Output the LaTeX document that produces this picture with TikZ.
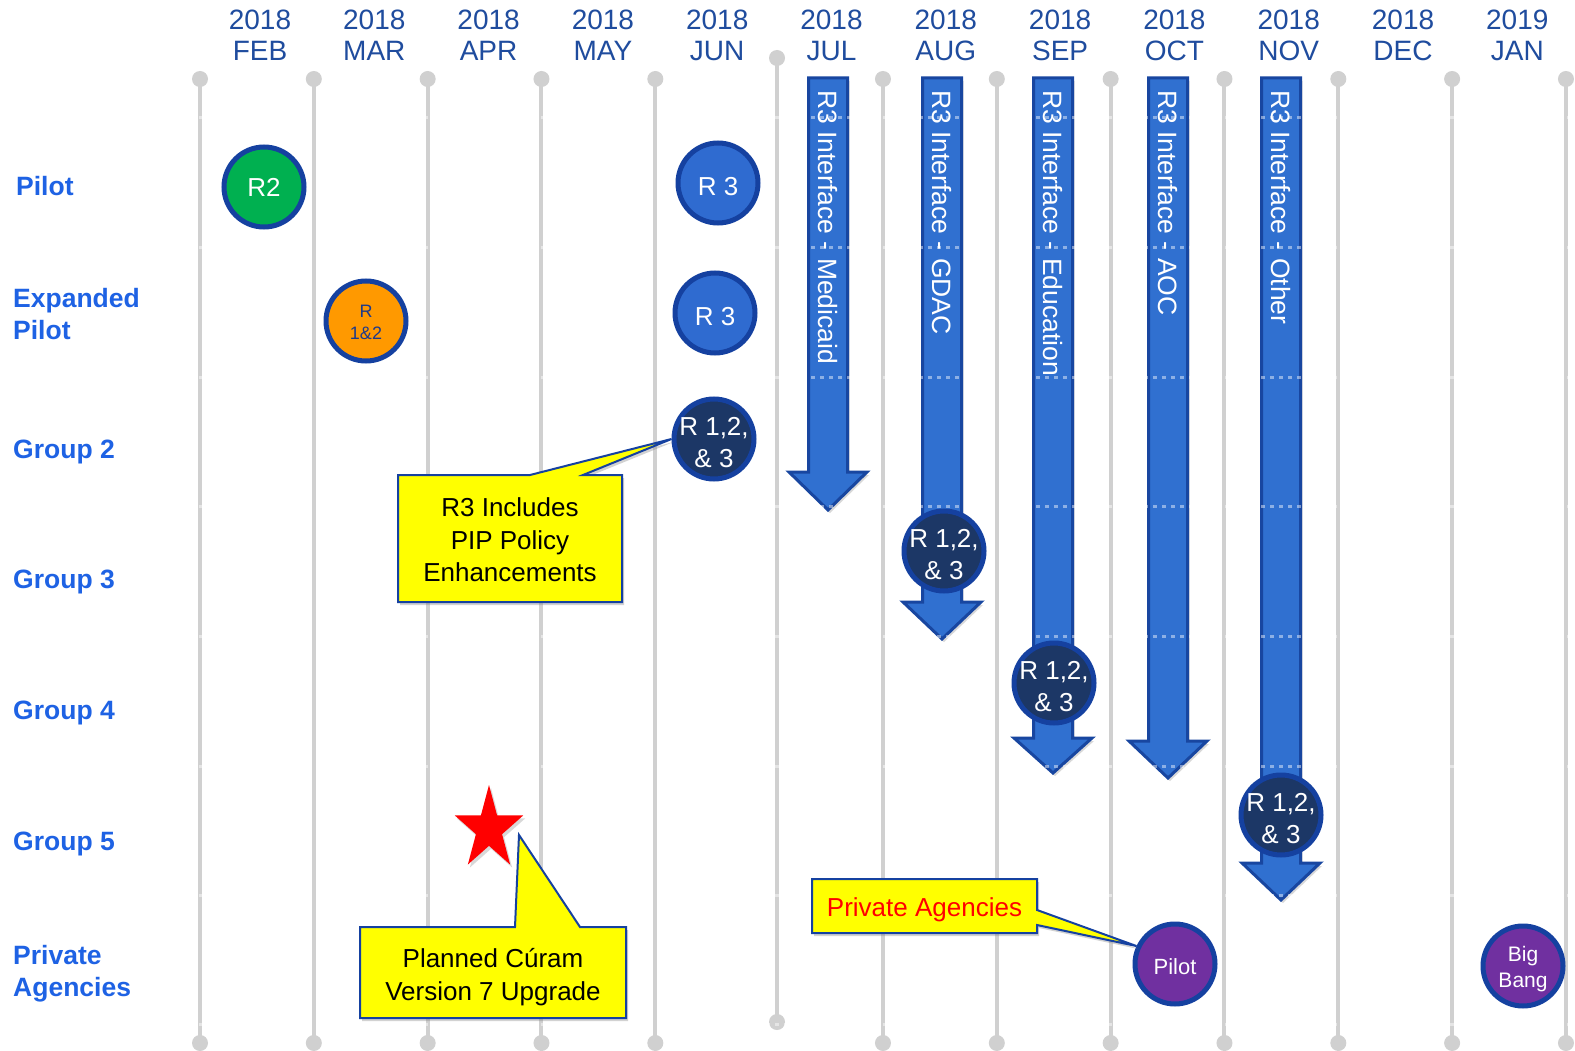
\documentclass[tikz,border=0pt]{standalone}
\usepackage{fontspec}
\setmainfont{Liberation Sans}
\usetikzlibrary{shadows}
\definecolor{gridgray}{HTML}{D0D0D0}
\definecolor{hdrblue}{HTML}{1F4C9E}
\definecolor{rowblue}{HTML}{1E62E4}
\definecolor{ringblue}{HTML}{1541A0}
\definecolor{arrowblue}{HTML}{3070D0}
\definecolor{arrowedge}{HTML}{1846A0}
\definecolor{navyfill}{HTML}{1C3766}
\definecolor{rthree}{HTML}{2F6BD0}
\definecolor{relgreen}{HTML}{00B050}
\definecolor{relorange}{HTML}{FF9900}
\definecolor{relpurple}{HTML}{7030A0}
\definecolor{callyellow}{HTML}{FFFF00}
\definecolor{smalltext}{HTML}{1E3A8A}
\tikzset{
  vline/.style={line width=4pt, draw=gridgray},
  hdr/.style={font=\fontsize{28}{31}\selectfont, text=hdrblue, align=center, anchor=north, inner sep=0pt},
  rowlab/.style={font=\bfseries\fontsize{26.5}{32}\selectfont, text=rowblue, align=left, inner sep=0pt},
  circ/.style={circle, draw=ringblue, line width=5pt, minimum size=80pt, inner sep=0pt},
  circtext/.style={align=center, text=white, inner sep=0pt, font=\fontsize{26}{32.5}\selectfont},
  bigarrow/.style={fill=arrowblue, draw=arrowedge, line width=3pt, line join=miter, drop shadow={shadow xshift=2pt, shadow yshift=-3pt, opacity=0.3}},
  arrowtext/.style={rotate=-90, anchor=west, text=white, font=\fontsize{26.5}{30}\selectfont, inner sep=0pt},
  callout/.style={fill=callyellow, draw=ringblue, line width=2pt, line join=miter, drop shadow={shadow xshift=2pt, shadow yshift=-3pt, opacity=0.35}},
  calltext/.style={align=center, font=\fontsize{26}{32.5}\selectfont, inner sep=0pt},
  gridrow/.style={draw=white, opacity=0.45, line width=3pt, dash pattern=on 4pt off 5pt},
}
\begin{document}
\begin{tikzpicture}[x=1pt,y=-1pt]
\useasboundingbox (0,0) rectangle (1575,1051);
\clip (0,0) rectangle (1575,1051);
\fill[white] (0,0) rectangle (1575,1051);

% vertical month lines
\foreach \i in {0,1,2,3,4,6,7,8,9,10,11,12}{
  \pgfmathsetmacro\xx{200+113.83*\i}
  \draw[vline] (\xx,79) -- (\xx,1043);
  \fill[gridgray] (\xx,79) circle[radius=8];
  \fill[gridgray] (\xx,1043) circle[radius=8];
}
\draw[vline] (777,58) -- (777,1022);
\fill[gridgray] (777,58) circle[radius=8];
\fill[gridgray] (777,1022) circle[radius=8];

% headers
\foreach \yr/\mo [count=\i from 0] in {2018/FEB,2018/MAR,2018/APR,2018/MAY,2018/JUN,2018/JUL,2018/AUG,2018/SEP,2018/OCT,2018/NOV,2018/DEC,2019/JAN}{
  \node[hdr] (h\i) at ({260+114.3*\i},10) {\yr\\\mo};
}

% row labels
\node[rowlab, anchor=base west] (lpilot) at (16,196) {Pilot};
\node[rowlab, anchor=north west] (lexp) at (13,288) {Expanded\\Pilot};
\node[rowlab, anchor=base west] (lg2) at (13,458) {Group 2};
\node[rowlab, anchor=base west] (lg3) at (13,588) {Group 3};
\node[rowlab, anchor=base west] (lg4) at (13,719) {Group 4};
\node[rowlab, anchor=base west] (lg5) at (13,850) {Group 5};
\node[rowlab, anchor=north west] (lpriv) at (13,945) {Private\\Agencies};

% big arrows
\foreach \cx/\base/\tip [count=\i] in {828/472/510, 942/602/639, 1053/738/773, 1168/741/778, 1281/863/900}{
  \path[bigarrow] (\cx-19.5,78) -- (\cx+19.5,78) -- (\cx+19.5,\base) -- (\cx+39,\base) -- (\cx,\tip) -- (\cx-39,\base) -- (\cx-19.5,\base) -- cycle;
}

% faint row separators
\foreach \yy in {118,247.5,377,506.5,636,766,895,1024.5}{
  \draw[gridrow] (190,\yy) -- (1575,\yy);
}

% arrow texts
\foreach \cx/\txt [count=\i] in {828/Medicaid, 942/GDAC, 1053/Education, 1168/AOC, 1281/Other}{
  \node[arrowtext] (a\i) at (\cx,90) {R3 Interface - \txt};
}

% release circles
\node[circ, fill=relgreen] (c1) at (264,187) {};
\node[circtext] (c1t) at (c1.center) {R2};
\node[circ, fill=relorange] (c2) at (366,321) {};
\node[circtext, text=smalltext, font=\fontsize{18}{22}\selectfont] (c2t) at ([yshift=-1pt]c2.center) {R\\1\&2};
\node[circ, fill=rthree] (c3) at (718,183) {};
\node[circtext] (c3t) at ([yshift=-3.5pt]c3.center) {R 3};
\node[circ, fill=rthree] (c4) at (715,313) {};
\node[circtext] (c4t) at ([yshift=-3.5pt]c4.center) {R 3};
\node[circ, fill=navyfill] (c5) at (714,439) {};
\node[circtext] (c5t) at ([yshift=-3.5pt]c5.center) {R 1,2,\\\& 3};
\node[circ, fill=navyfill] (c6) at (944,551) {};
\node[circtext] (c6t) at ([yshift=-3.5pt]c6.center) {R 1,2,\\\& 3};
\node[circ, fill=navyfill] (c7) at (1054,683) {};
\node[circtext] (c7t) at ([yshift=-3.5pt]c7.center) {R 1,2,\\\& 3};
\node[circ, fill=navyfill] (c8) at (1281,815) {};
\node[circtext] (c8t) at ([yshift=-3.5pt]c8.center) {R 1,2,\\\& 3};
\node[circ, fill=relpurple] (c9) at (1175,964) {};
\node[circtext, font=\fontsize{22}{26}\selectfont] (c9t) at ([yshift=-2.5pt]c9.center) {Pilot};
\node[circ, fill=relpurple] (c10) at (1523,966) {};
\node[circtext, font=\fontsize{21}{26}\selectfont] (c10t) at ([yshift=-3pt]c10.center) {Big\\Bang};

% star
\begin{scope}[shift={(489,829)}, x=36pt, y=44pt]
  \fill[red, drop shadow={shadow xshift=2pt, shadow yshift=-3pt, opacity=0.3}]
    (90:1) -- (126:0.382) -- (162:1) -- (198:0.382) -- (234:1) -- (270:0.382) -- (306:1) -- (342:0.382) -- (18:1) -- (54:0.382) -- cycle;
\end{scope}
\coordinate (startip) at (519,835);

% callouts
\path[callout] (398,475) -- (530,475) -- (c5.west) -- (583,475) -- (622,475) -- (622,602) -- (398,602) -- cycle;
\node[calltext] (t1) at (510,540) {R3 Includes\\PIP Policy\\Enhancements};

\path[callout] (360,927) -- (515,927) -- (startip) -- (580,927) -- (626,927) -- (626,1018) -- (360,1018) -- cycle;
\node[calltext] (t2) at (493,977) {Planned Cúram\\Version 7 Upgrade};

\path[callout] (812,879) -- (1037,879) -- (1037,910) -- (c9.155) -- (1037,925) -- (1037,933) -- (812,933) -- cycle;
\node[calltext, text=red] (t3) at (924.5,909.5) {Private Agencies};
\end{tikzpicture}
\end{document}
